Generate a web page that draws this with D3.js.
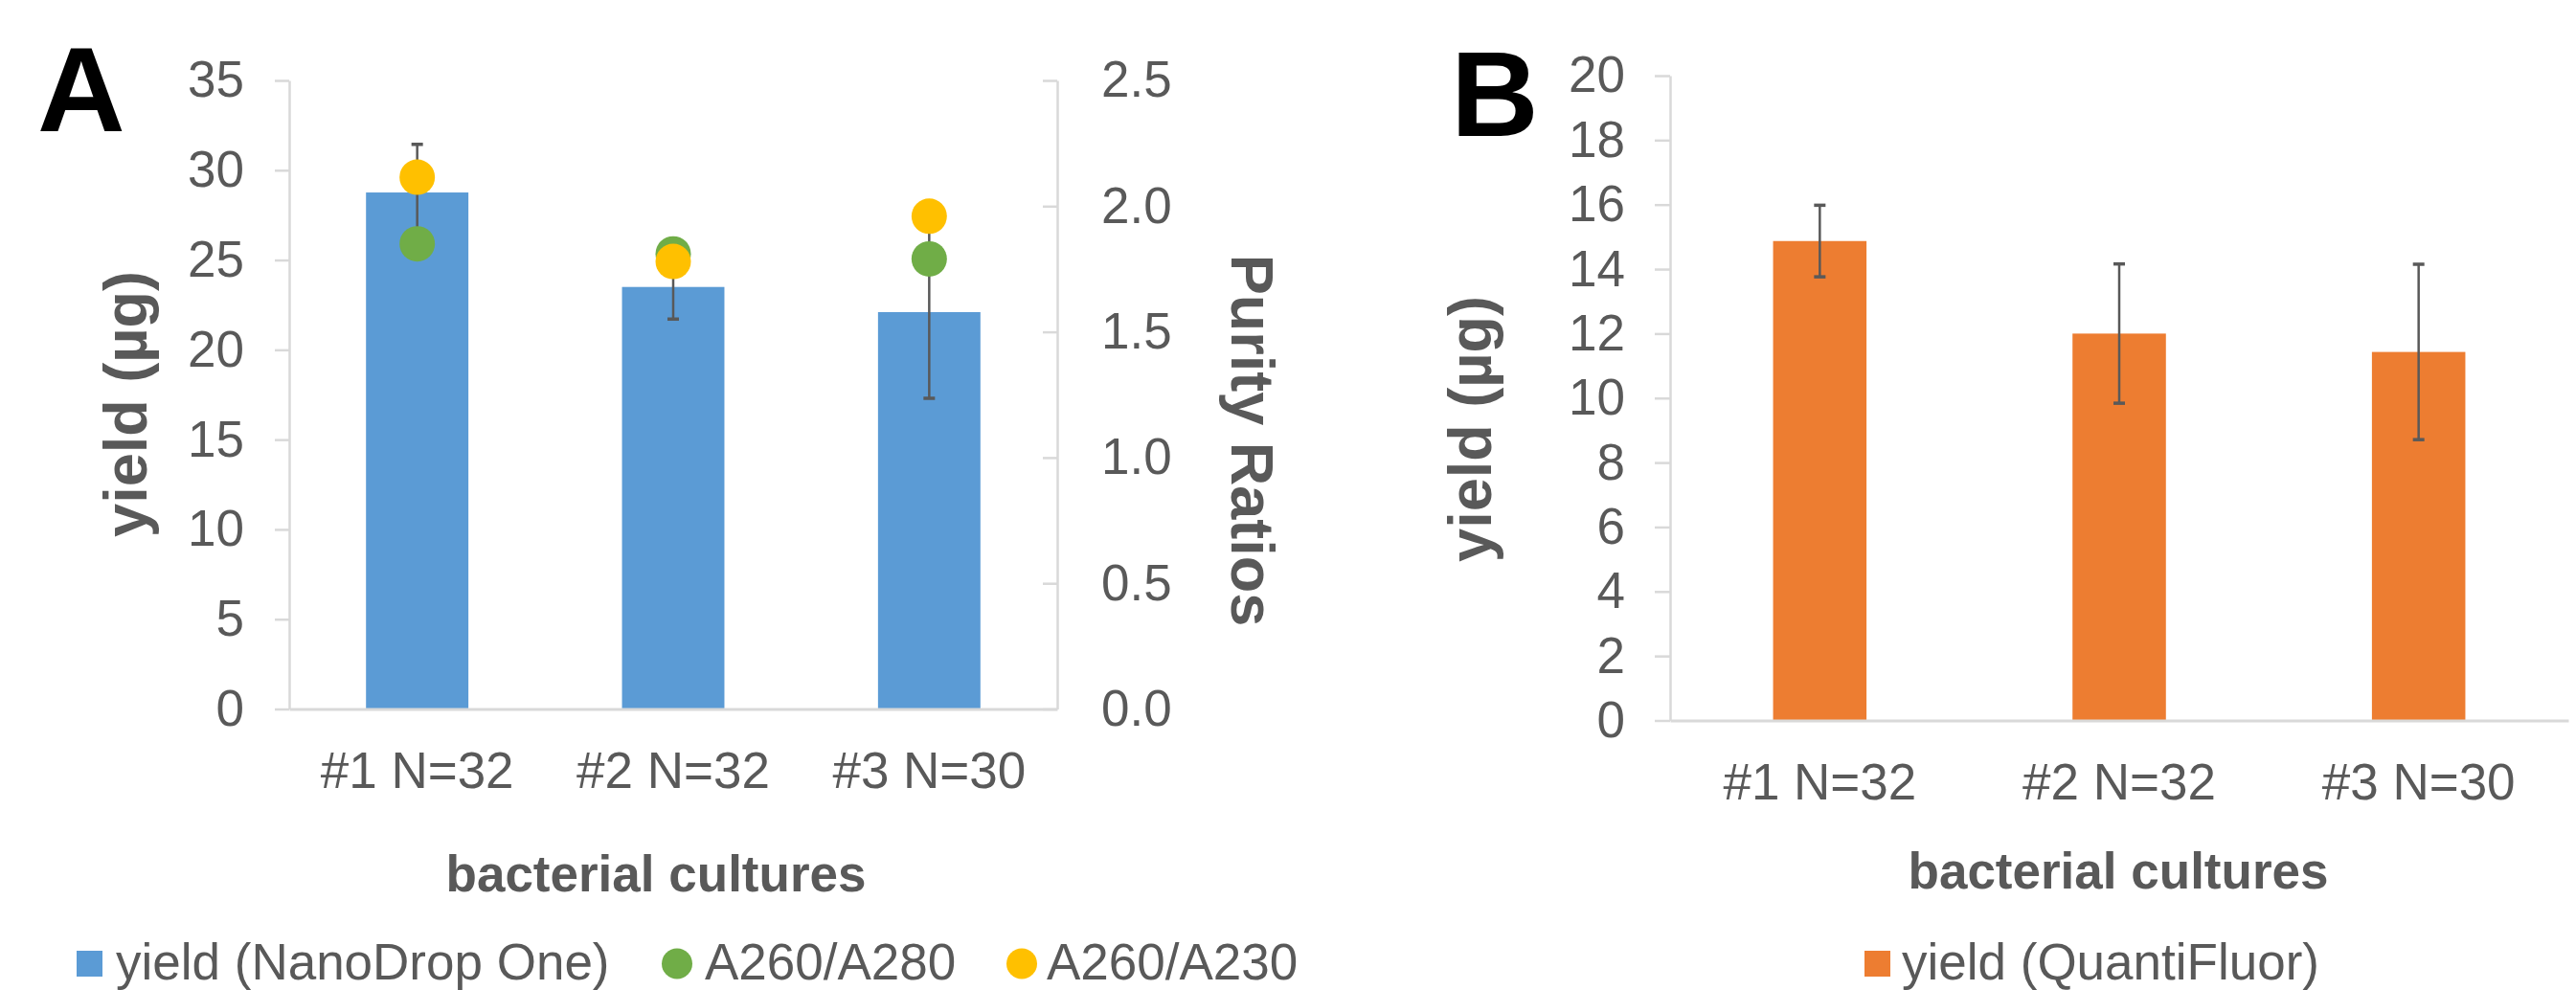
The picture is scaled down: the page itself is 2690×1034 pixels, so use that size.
<!DOCTYPE html>
<html>
<head>
<meta charset="utf-8">
<script src="https://cdn.jsdelivr.net/npm/d3@7"></script>
<style>
  html, body { margin: 0; padding: 0; background: #ffffff; }
  svg { display: block; }
  text { font-family: "Liberation Sans", Arial, sans-serif; }
</style>
</head>
<body>
<svg id="chart" width="2690" height="1034"></svg>
<script>
// Bacterial cultures and the measured yields
const categories = ["#1 N=32", "#2 N=32", "#3 N=30"];

// Panel A: yield by NanoDrop One (µg) with error, and purity ratios
const yieldNanoDrop = [28.76, 23.5, 22.1];
const yieldNanoDropErr = [2.68, 1.79, 4.8];
const ratioA260A280 = [1.85, 1.81, 1.79];
const ratioA260A230 = [2.115, 1.78, 1.96];

// Panel B: yield by QuantiFluor (µg) with error
const yieldQuantiFluor = [14.87, 12.0, 11.43];
const yieldQuantiFluorErr = [1.11, 2.16, 2.72];

// Axis ticks
const ticksYieldA = [0, 5, 10, 15, 20, 25, 30, 35];
const ticksRatio = [0, 0.5, 1.0, 1.5, 2.0, 2.5];
const ticksYieldB = [0, 2, 4, 6, 8, 10, 12, 14, 16, 18, 20];

// Legend entries
const legendA = ["yield (NanoDrop One)", "A260/A280", "A260/A230"];
const legendB = ["yield (QuantiFluor)"];

const COL = {
  blue: "#5B9BD5", orange: "#ED7D31", green: "#70AD47", yellow: "#FFC000",
  text: "#595959", axis: "#D9D9D9", err: "#595959"
};
const FS = 53;

const svg = d3.select("#chart");

function styleAxis(g) {
  g.selectAll("path.domain").attr("stroke", COL.axis).attr("stroke-width", 2.5);
  g.selectAll(".tick line").attr("stroke", COL.axis).attr("stroke-width", 2.5);
  g.selectAll(".tick text").attr("fill", COL.text).attr("font-size", FS)
    .attr("font-family", "'Liberation Sans', Arial, sans-serif");
}

function errorBars(g, x, y, vals, errs) {
  const cap = 6;
  const eg = g.append("g").attr("stroke", COL.err).attr("stroke-width", 2.5);
  vals.forEach((v, i) => {
    const cx = x(categories[i]) + x.bandwidth() / 2;
    const y1 = y(v + errs[i]), y0 = y(v - errs[i]);
    eg.append("line").attr("x1", cx).attr("x2", cx).attr("y1", y1).attr("y2", y0);
    eg.append("line").attr("x1", cx - cap).attr("x2", cx + cap).attr("y1", y1).attr("y2", y1).attr("stroke-width", 3.5);
    eg.append("line").attr("x1", cx - cap).attr("x2", cx + cap).attr("y1", y0).attr("y2", y0).attr("stroke-width", 3.5);
  });
}

// Legend row sits at the bottom edge
const legendBase = 1023, legendMid = 1006.5;

// ---------- Panel A ----------
(function () {
  const left = 302, right = 1104, top = 84, bottom = 740.5;
  const x = d3.scaleBand().domain(categories).range([left, right]).paddingInner(0.6).paddingOuter(0.3);
  const y = d3.scaleLinear().domain([0, 35]).range([bottom, top]);
  const y2 = d3.scaleLinear().domain([0, 2.5]).range([bottom, top]);
  const g = svg.append("g");

  // bars
  g.append("g").selectAll("rect").data(yieldNanoDrop).join("rect")
    .attr("x", (d, i) => x(categories[i]))
    .attr("y", d => y(d))
    .attr("width", x.bandwidth())
    .attr("height", d => y(0) - y(d))
    .attr("fill", COL.blue);

  // axes
  const ax = g.append("g").attr("transform", `translate(${left},0)`)
    .call(d3.axisLeft(y).tickValues(ticksYieldA).tickSize(15).tickPadding(32).tickSizeOuter(0));
  styleAxis(ax);
  const ax2 = g.append("g").attr("transform", `translate(${right},0)`)
    .call(d3.axisRight(y2).tickValues(ticksRatio).tickFormat(d3.format(".1f"))
      .tickSizeInner(-15).tickPadding(46).tickSizeOuter(0));
  styleAxis(ax2);
  const axb = g.append("g").attr("transform", `translate(0,${bottom})`)
    .call(d3.axisBottom(x).tickSize(0).tickPadding(45));
  styleAxis(axb);
  axb.select("path.domain").attr("stroke-width", 3);

  errorBars(g, x, y, yieldNanoDrop, yieldNanoDropErr);

  // purity ratio markers
  const r = 18.5;
  g.append("g").selectAll("circle").data(ratioA260A280).join("circle")
    .attr("cx", (d, i) => x(categories[i]) + x.bandwidth() / 2)
    .attr("cy", d => y2(d)).attr("r", r).attr("fill", COL.green);
  g.append("g").selectAll("circle").data(ratioA260A230).join("circle")
    .attr("cx", (d, i) => x(categories[i]) + x.bandwidth() / 2)
    .attr("cy", d => y2(d)).attr("r", r).attr("fill", COL.yellow);

  // titles
  g.append("text").attr("x", 39).attr("y", 137).attr("font-size", 127)
    .attr("font-weight", "bold").attr("fill", "#000").text("A");
  g.append("text").attr("transform", "translate(131,422) rotate(-90)")
    .attr("text-anchor", "middle").attr("dominant-baseline", "central")
    .attr("font-size", 63).attr("font-weight", "bold").attr("fill", COL.text).text("yield (µg)");
  g.append("text").attr("transform", "translate(1308,460) rotate(90)")
    .attr("text-anchor", "middle").attr("dominant-baseline", "central")
    .attr("font-size", 63).attr("font-weight", "bold").attr("fill", COL.text).text("Purity Ratios");
  g.append("text").attr("x", 685).attr("y", 931).attr("text-anchor", "middle")
    .attr("font-size", FS).attr("font-weight", "bold").attr("fill", COL.text).text("bacterial cultures");

  // legend
  const lg = g.append("g");
  lg.append("rect").attr("x", 80).attr("y", legendMid - 13.5).attr("width", 27).attr("height", 27).attr("fill", COL.blue);
  lg.append("text").attr("x", 121).attr("y", legendBase).attr("font-size", FS).attr("fill", COL.text).text(legendA[0]);
  lg.append("circle").attr("cx", 707).attr("cy", legendMid).attr("r", 16).attr("fill", COL.green);
  lg.append("text").attr("x", 736).attr("y", legendBase).attr("font-size", FS).attr("fill", COL.text).text(legendA[1]);
  lg.append("circle").attr("cx", 1067).attr("cy", legendMid).attr("r", 16).attr("fill", COL.yellow);
  lg.append("text").attr("x", 1093).attr("y", legendBase).attr("font-size", FS).attr("fill", COL.text).text(legendA[2]);
})();

// ---------- Panel B ----------
(function () {
  const left = 1744, right = 2682, top = 79, bottom = 752.5;
  const x = d3.scaleBand().domain(categories).range([left, right]).paddingInner(0.688).paddingOuter(0.344);
  const y = d3.scaleLinear().domain([0, 20]).range([bottom, top]);
  const g = svg.append("g");

  g.append("g").selectAll("rect").data(yieldQuantiFluor).join("rect")
    .attr("x", (d, i) => x(categories[i]))
    .attr("y", d => y(d))
    .attr("width", x.bandwidth())
    .attr("height", d => y(0) - y(d))
    .attr("fill", COL.orange);

  const ax = g.append("g").attr("transform", `translate(${left},0)`)
    .call(d3.axisLeft(y).tickValues(ticksYieldB).tickSize(16).tickPadding(31).tickSizeOuter(0));
  styleAxis(ax);
  const axb = g.append("g").attr("transform", `translate(0,${bottom})`)
    .call(d3.axisBottom(x).tickSize(0).tickPadding(45));
  styleAxis(axb);
  axb.select("path.domain").attr("stroke-width", 3);

  errorBars(g, x, y, yieldQuantiFluor, yieldQuantiFluorErr);

  g.append("text").attr("x", 1515).attr("y", 142).attr("font-size", 127)
    .attr("font-weight", "bold").attr("fill", "#000").text("B");
  g.append("text").attr("transform", "translate(1535,448) rotate(-90)")
    .attr("text-anchor", "middle").attr("dominant-baseline", "central")
    .attr("font-size", 63).attr("font-weight", "bold").attr("fill", COL.text).text("yield (µg)");
  g.append("text").attr("x", 2212).attr("y", 928).attr("text-anchor", "middle")
    .attr("font-size", FS).attr("font-weight", "bold").attr("fill", COL.text).text("bacterial cultures");

  const lg = g.append("g");
  lg.append("rect").attr("x", 1947).attr("y", legendMid - 13.5).attr("width", 27).attr("height", 27).attr("fill", COL.orange);
  lg.append("text").attr("x", 1986).attr("y", legendBase).attr("font-size", FS).attr("fill", COL.text).text(legendB[0]);
})();
</script>
</body>
</html>
